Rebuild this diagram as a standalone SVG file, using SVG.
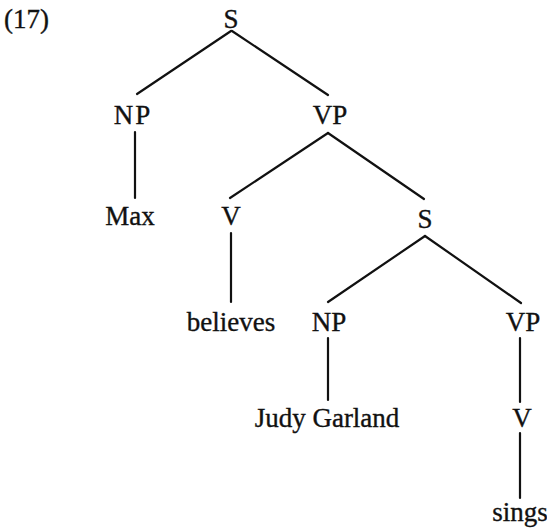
<svg xmlns="http://www.w3.org/2000/svg" width="547" height="528" viewBox="0 0 547 528">
  <style>
    text { font-family: "Liberation Serif", "Times New Roman", serif; font-size: 27px; fill: #111; stroke: #111; stroke-width: 0.35; text-anchor: middle; }
    .edge { stroke: #111; stroke-width: 2.2; fill: none; stroke-linecap: round; }
  </style>
  <rect width="547" height="528" fill="#fff"/>
  <text x="4" y="28" style="text-anchor:start">(17)</text>

  <g id="connectors">
    <line class="edge" x1="231" y1="31" x2="137" y2="94"/>
    <line class="edge" x1="232" y1="31" x2="328" y2="95"/>
    <line class="edge" x1="135" y1="132" x2="135" y2="198"/>
    <line class="edge" x1="328" y1="133" x2="230" y2="198"/>
    <line class="edge" x1="328" y1="133" x2="424" y2="199"/>
    <line class="edge" x1="231" y1="233" x2="231" y2="302"/>
    <line class="edge" x1="425" y1="236" x2="328" y2="302"/>
    <line class="edge" x1="425" y1="236" x2="521" y2="303"/>
    <line class="edge" x1="328" y1="338" x2="328" y2="400"/>
    <line class="edge" x1="520" y1="338" x2="520" y2="402"/>
    <line class="edge" x1="520" y1="433" x2="520" y2="498"/>
  </g>

  <g id="s-root"><text x="231" y="28">S</text></g>
  <g id="np-subject"><text x="133" y="124" letter-spacing="2">NP</text></g>
  <g id="vp-main"><text x="330" y="124">VP</text></g>
  <g id="max"><text x="130" y="225">Max</text></g>
  <g id="v-main"><text x="231" y="225">V</text></g>
  <g id="s-embedded"><text x="425" y="228">S</text></g>
  <g id="believes"><text x="231" y="331">believes</text></g>
  <g id="np-embedded"><text x="329" y="331">NP</text></g>
  <g id="vp-embedded"><text x="523" y="331">VP</text></g>
  <g id="judy-garland"><text x="327" y="427">Judy Garland</text></g>
  <g id="v-embedded"><text x="522" y="427">V</text></g>
  <g id="sings"><text x="520" y="521">sings</text></g>
</svg>
